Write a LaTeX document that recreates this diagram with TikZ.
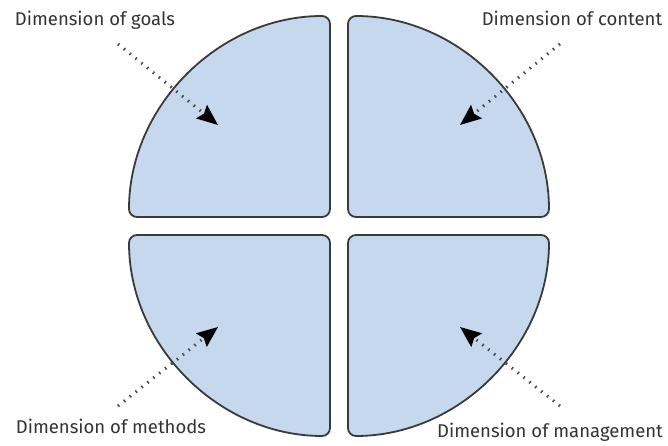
\documentclass[tikz,border=0pt]{standalone}
\usepackage{fontspec}
\setmainfont{Fira Sans}
\usetikzlibrary{arrows.meta}
\definecolor{quadfill}{HTML}{C6D8EE}
\definecolor{quadline}{HTML}{3A3A3A}
\definecolor{labeltext}{HTML}{333333}
\definecolor{dotline}{HTML}{4A4A4A}
\tikzset{
	quadrant/.style={fill=quadfill, draw=quadline, line width=1.8pt, rounded corners=8pt},
	dimlabel/.style={text=labeltext, font=\fontsize{18.5}{22}\selectfont, inner sep=0pt, anchor=base},
	dimarrow/.style={draw=dotline, line width=3pt, dash pattern=on 1.5pt off 6pt, -{Stealth[length=21pt,width=17pt,inset=3pt,black]}}
}
\begin{document}
\begin{tikzpicture}[x=1pt,y=1pt]
	
	\useasboundingbox (-339,-220) rectangle (329,226);
	
	\draw[quadrant] (-9,9) -- (-210,9) arc[start angle=180, end angle=90, radius=201] -- cycle;
	\draw[quadrant] (9,9) -- (9,210) arc[start angle=90, end angle=0, radius=201] -- cycle;
	\draw[quadrant] (-9,-9) -- (-9,-210) arc[start angle=270, end angle=180, radius=201] -- cycle;
	\draw[quadrant] (9,-9) -- (210,-9) arc[start angle=0, end angle=-90, radius=201] -- cycle;
	
	\node[dimlabel] (goals) at (-244,200) {Dimension of goals};
	\node[dimlabel] (content) at (233,200) {Dimension of content};
	\node[dimlabel] (methods) at (-228,-207) {Dimension of methods};
	\node[dimlabel] (management) at (211,-211) {Dimension of management};
	
	\coordinate (goalsTail) at (-221,182);
	\coordinate (goalsTip) at (-121,101);
	\coordinate (contentTail) at (221,182);
	\coordinate (contentTip) at (121,101);
	\coordinate (methodsTail) at (-221,-180);
	\coordinate (methodsTip) at (-121,-101);
	\coordinate (managementTail) at (221,-180);
	\coordinate (managementTip) at (121,-101);
	
	\draw[dimarrow] (goalsTail) -- (goalsTip);
	\draw[dimarrow] (contentTail) -- (contentTip);
	\draw[dimarrow] (methodsTail) -- (methodsTip);
	\draw[dimarrow] (managementTail) -- (managementTip);
	
\end{tikzpicture}
\end{document}
